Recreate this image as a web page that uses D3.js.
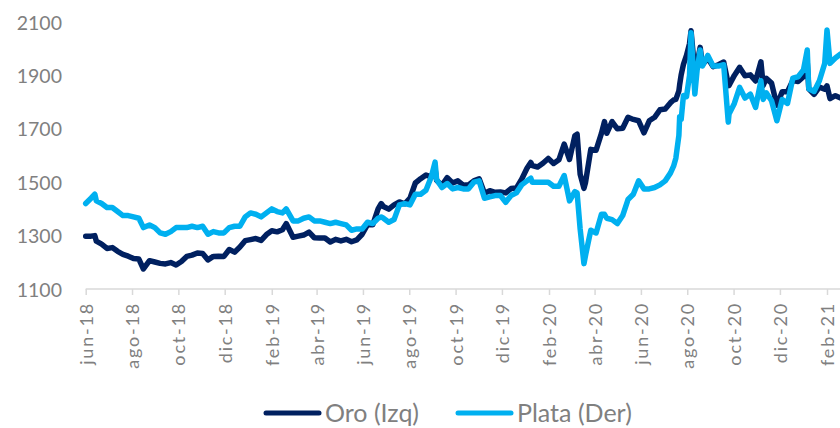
<!DOCTYPE html>
<html>
<head>
<meta charset="utf-8">
<script src="https://cdn.jsdelivr.net/npm/d3@7"></script>
<style>
  html, body { margin: 0; padding: 0; background: #fff; }
  svg { display: block; }
</style>
</head>
<body>
<svg id="chart" width="840" height="428"></svg>
<script>
const dates = [
"2018-06-01","2018-06-08","2018-06-13","2018-06-15","2018-06-22","2018-06-29","2018-07-06","2018-07-13","2018-07-20","2018-07-27",
"2018-08-03","2018-08-10","2018-08-16","2018-08-24","2018-08-31","2018-09-07","2018-09-14","2018-09-21","2018-09-28","2018-10-05",
"2018-10-12","2018-10-19","2018-10-26","2018-11-02","2018-11-09","2018-11-16","2018-11-23","2018-11-30","2018-12-07","2018-12-14",
"2018-12-21","2018-12-28","2019-01-04","2019-01-11","2019-01-18","2019-01-25","2019-02-01","2019-02-08","2019-02-15","2019-02-20",
"2019-03-01","2019-03-08","2019-03-15","2019-03-22","2019-03-29","2019-04-05","2019-04-12","2019-04-19","2019-04-26","2019-05-03",
"2019-05-10","2019-05-17","2019-05-24","2019-05-31","2019-06-07","2019-06-14","2019-06-21","2019-06-25","2019-06-28","2019-07-05",
"2019-07-12","2019-07-19","2019-07-26","2019-08-02","2019-08-09","2019-08-16","2019-08-23","2019-08-30","2019-09-04","2019-09-06",
"2019-09-13","2019-09-20","2019-09-27","2019-10-04","2019-10-11","2019-10-18","2019-10-25","2019-11-01","2019-11-08","2019-11-15",
"2019-11-22","2019-11-29","2019-12-06","2019-12-13","2019-12-20","2019-12-27","2020-01-03","2020-01-08","2020-01-10","2020-01-17",
"2020-01-24","2020-01-31","2020-02-07","2020-02-14","2020-02-21","2020-02-28","2020-03-06","2020-03-09","2020-03-13","2020-03-18",
"2020-03-20","2020-03-27","2020-04-03","2020-04-10","2020-04-14","2020-04-17","2020-04-24","2020-05-01","2020-05-08","2020-05-15",
"2020-05-22","2020-05-29","2020-06-05","2020-06-12","2020-06-19","2020-06-26","2020-07-03","2020-07-10","2020-07-14","2020-07-17",
"2020-07-21","2020-07-22","2020-07-24","2020-07-27","2020-07-31","2020-08-04","2020-08-06","2020-08-11","2020-08-14","2020-08-18",
"2020-08-21","2020-08-28","2020-09-04","2020-09-11","2020-09-18","2020-09-24","2020-09-25","2020-10-02","2020-10-09","2020-10-16",
"2020-10-23","2020-10-30","2020-11-06","2020-11-09","2020-11-13","2020-11-20","2020-11-27","2020-12-04","2020-12-11","2020-12-18",
"2020-12-25","2021-01-01","2021-01-06","2021-01-08","2021-01-15","2021-01-22","2021-01-29","2021-02-01","2021-02-05","2021-02-12",
"2021-02-19"
];
const oro = [
1298,1298,1300,1279,1268,1252,1255,1241,1230,1223,
1214,1212,1175,1206,1201,1196,1194,1199,1190,1203,
1222,1227,1235,1233,1209,1222,1223,1222,1248,1238,
1257,1281,1285,1289,1282,1304,1318,1314,1322,1345,
1294,1298,1302,1313,1292,1291,1291,1276,1286,1280,
1286,1277,1284,1305,1341,1341,1400,1420,1409,1399,
1415,1426,1419,1440,1497,1513,1527,1520,1550,1507,
1488,1517,1497,1505,1489,1490,1505,1513,1459,1468,
1462,1463,1460,1476,1478,1511,1552,1574,1562,1557,
1571,1589,1570,1584,1643,1585,1674,1680,1530,1477,
1498,1623,1620,1683,1727,1683,1727,1700,1702,1743,
1735,1730,1685,1730,1743,1771,1774,1798,1808,1810,
1842,1865,1902,1941,1975,2019,2067,1911,1944,2005,
1940,1964,1933,1940,1950,1868,1862,1900,1930,1899,
1902,1879,1951,1862,1889,1871,1788,1839,1839,1881,
1877,1895,1950,1850,1829,1856,1848,1861,1813,1824,
1815
];
const plata = [
16.4,16.8,17.1,16.6,16.4,16.1,16.1,15.8,15.5,15.5,
15.4,15.3,14.6,14.8,14.6,14.2,14.1,14.3,14.6,14.6,
14.6,14.7,14.6,14.7,14.1,14.3,14.2,14.2,14.6,14.7,
14.7,15.4,15.7,15.6,15.4,15.7,16.0,15.8,15.7,16.0,
15.1,15.1,15.3,15.4,15.1,15.1,15.0,14.9,15.0,14.9,
14.8,14.4,14.5,14.5,15.0,14.9,15.3,15.4,15.3,15.0,
15.2,16.3,16.4,16.3,17.1,17.1,17.4,18.4,19.5,18.2,
17.6,17.9,17.5,17.6,17.5,17.5,18.0,18.1,16.8,16.9,
17.0,17.0,16.5,17.0,17.2,17.8,18.1,18.3,18.0,18.0,
18.0,18.0,17.7,17.7,18.5,16.6,17.3,17.2,14.5,11.9,
12.5,14.4,14.2,15.6,15.6,15.3,15.2,14.9,15.5,16.7,
17.1,18.1,17.5,17.5,17.6,17.8,18.1,18.7,19.2,19.8,
21.5,22.9,22.7,24.5,24.4,26.0,29.2,24.6,26.4,27.9,
26.7,27.5,26.7,26.7,26.8,22.5,23.1,23.9,25.1,24.3,
24.6,23.6,25.6,24.2,24.7,24.1,22.6,24.2,23.9,25.8,
25.9,26.4,27.9,25.0,24.8,25.6,26.9,29.4,26.9,27.3,
27.6
];
const yTicks = [1100,1300,1500,1700,1900,2100];
const xTickDates = ["2018-06-01","2018-08-01","2018-10-01","2018-12-01","2019-02-01","2019-04-01","2019-06-01","2019-08-01","2019-10-01","2019-12-01","2020-02-01","2020-04-01","2020-06-01","2020-08-01","2020-10-01","2020-12-01","2021-02-01"];
const xTickLabels = ["jun-18","ago-18","oct-18","dic-18","feb-19","abr-19","jun-19","ago-19","oct-19","dic-19","feb-20","abr-20","jun-20","ago-20","oct-20","dic-20","feb-21"];
const seriesNames = ["Oro (Izq)","Plata (Der)"];
const seriesColors = ["#002060","#00B0F0"];

const parse = d3.utcParse("%Y-%m-%d");
const svg = d3.select("#chart");
const font = "Lato, 'Open Sans', sans-serif";
const textColor = "#808080";

const x = d3.scaleUtc().domain([parse("2018-06-01"), parse("2021-02-01")]).range([85.7, 827]);
const yL = d3.scaleLinear().domain([1100, 2100]).range([289, 22]);
const yR = d3.scaleLinear().domain([10, 30]).range([289, 22]);

// Y axis (left) labels only
const yAxis = d3.axisLeft(yL).tickValues(yTicks).tickSize(0).tickPadding(0).tickFormat(d3.format("d"));
const gy = svg.append("g").attr("transform", "translate(62,0)").call(yAxis);
gy.select(".domain").remove();
gy.selectAll("text").attr("font-family", font).attr("font-size", 19.5).attr("fill", textColor).attr("dy", "0.36em");

// X axis
const xAxis = d3.axisBottom(x).tickValues(xTickDates.map(parse)).tickSize(6).tickFormat((d, i) => xTickLabels[i]);
const gx = svg.append("g").attr("transform", "translate(0,289)").call(xAxis);
gx.select(".domain").attr("d", `M${x(parse("2018-06-01"))},0H840`).attr("stroke", "#d9d9d9").attr("stroke-width", 1.5);
gx.selectAll(".tick line").attr("stroke", "#d9d9d9").attr("stroke-width", 1.5);
gx.selectAll(".tick text")
  .attr("font-family", font).attr("font-size", 18).attr("fill", textColor)
  .attr("letter-spacing", "1.8px")
  .attr("text-anchor", "end")
  .attr("transform", "translate(0,13) rotate(-90)")
  .attr("x", 0).attr("y", 0).attr("dy", "0.36em");

const dts = dates.map(parse);
const lineOro = d3.line().x((d, i) => x(dts[i])).y(d => yL(d)).curve(d3.curveLinear);
const linePlata = d3.line().x((d, i) => x(dts[i])).y(d => yR(d)).curve(d3.curveLinear);

svg.append("path").datum(oro).attr("d", lineOro)
  .attr("fill", "none").attr("stroke", seriesColors[0]).attr("stroke-width", 5.5)
  .attr("stroke-linejoin", "round").attr("stroke-linecap", "round");
svg.append("path").datum(plata).attr("d", linePlata)
  .attr("fill", "none").attr("stroke", seriesColors[1]).attr("stroke-width", 5.5)
  .attr("stroke-linejoin", "round").attr("stroke-linecap", "round");

// Legend
const legendItems = [{sx: 266, tx: 325}, {sx: 458, tx: 517}];
legendItems.forEach((it, i) => {
  const g = svg.append("g");
  g.append("line").attr("x1", it.sx).attr("x2", it.sx + 53).attr("y1", 413).attr("y2", 413)
    .attr("stroke", seriesColors[i]).attr("stroke-width", 5).attr("stroke-linecap", "round");
  g.append("text").attr("x", it.tx).attr("y", 422)
    .attr("font-family", font).attr("font-size", 25).attr("fill", textColor)
    .text(seriesNames[i]);
});
</script>
</body>
</html>
